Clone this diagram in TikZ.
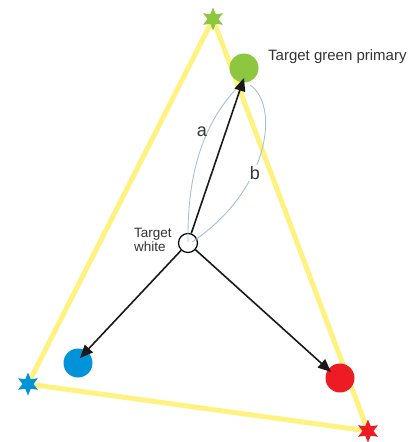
\documentclass[tikz,border=0pt]{standalone}
\usepackage{fontspec}
\setmainfont{Liberation Sans}
\usetikzlibrary{shapes.geometric,arrows.meta}
\definecolor{tyellow}{RGB}{255,242,128}
\definecolor{tgreen}{RGB}{141,198,63}
\definecolor{tblue}{RGB}{0,147,216}
\definecolor{tred}{RGB}{237,28,36}
\definecolor{tcurve}{RGB}{160,196,214}
\definecolor{ttext}{RGB}{51,51,51}
\tikzset{
  gamut/.style={draw=tyellow, line width=5pt, line join=miter},
  primary/.style={circle, minimum size=29pt, inner sep=0pt, fill=#1},
  vertexstar/.style={star, star points=6, star point ratio=2.1, minimum size=23pt, inner sep=0pt, fill=#1},
  whitept/.style={circle, minimum size=19pt, inner sep=0pt, fill=white, draw=black, line width=1.2pt},
  arr/.style={draw=black!90, line width=1.6pt, -{Triangle[length=13pt,width=11pt]}},
  pathcurve/.style={draw=tcurve, line width=0.9pt},
  lbl/.style={text=ttext, inner sep=0pt},
  curvelbl/.style={text=ttext, inner sep=1pt, font=\fontsize{18}{20}\selectfont},
}
\begin{document}
\begin{tikzpicture}[x=1pt,y=-1pt]
\useasboundingbox (0,0) rectangle (417,442);
% gamut triangle vertices
\coordinate (G) at (213,19);
\coordinate (B) at (28,384);
\coordinate (R) at (368,431);
\draw[gamut] (G) -- (B) -- (R) -- cycle;
% target primaries
\node[primary=tgreen] (gp) at (244,68) {};
\node[primary=tblue] (bp) at (78,363) {};
\node[primary=tred] (rp) at (340,378) {};
% arrow tips
\coordinate (gtip) at (244,78);
\coordinate (btip) at (80,358);
\coordinate (rtip) at (331,372);
% white point
\node[whitept] (w) at (188,243) {};
% curves a and b
\coordinate (ca0) at (188,242);
\coordinate (ca1) at (240,85);
\coordinate (cb0) at (192,242);
\coordinate (cb1) at (250,85);
\draw[pathcurve] (ca0) .. controls (187,170) and (205,120) .. (ca1);
\draw[pathcurve] (cb0) .. controls (270,190) and (280,105) .. (cb1);
\node[curvelbl] (la) at (202,132) {a};
\node[curvelbl, fill=white] (lb) at (255,173) {b};
% arrows
\draw[arr] (w) -- (gtip);
\draw[arr] (w) -- (btip);
\draw[arr] (w) -- (rtip);
% stars
\node[vertexstar=tgreen] (gs) at (G) {};
\node[vertexstar=tblue] (bs) at (B) {};
\node[vertexstar=tred] (rs) at (R) {};
% labels
\node[lbl, anchor=base west, font=\fontsize{15}{18}\selectfont] (tgl) at (268,60) {Target green primary};
\node[lbl, anchor=north west, align=left, font=\fontsize{13.5}{14.5}\selectfont] (twl) at (134,228) {Target\\white};
\end{tikzpicture}
\end{document}
